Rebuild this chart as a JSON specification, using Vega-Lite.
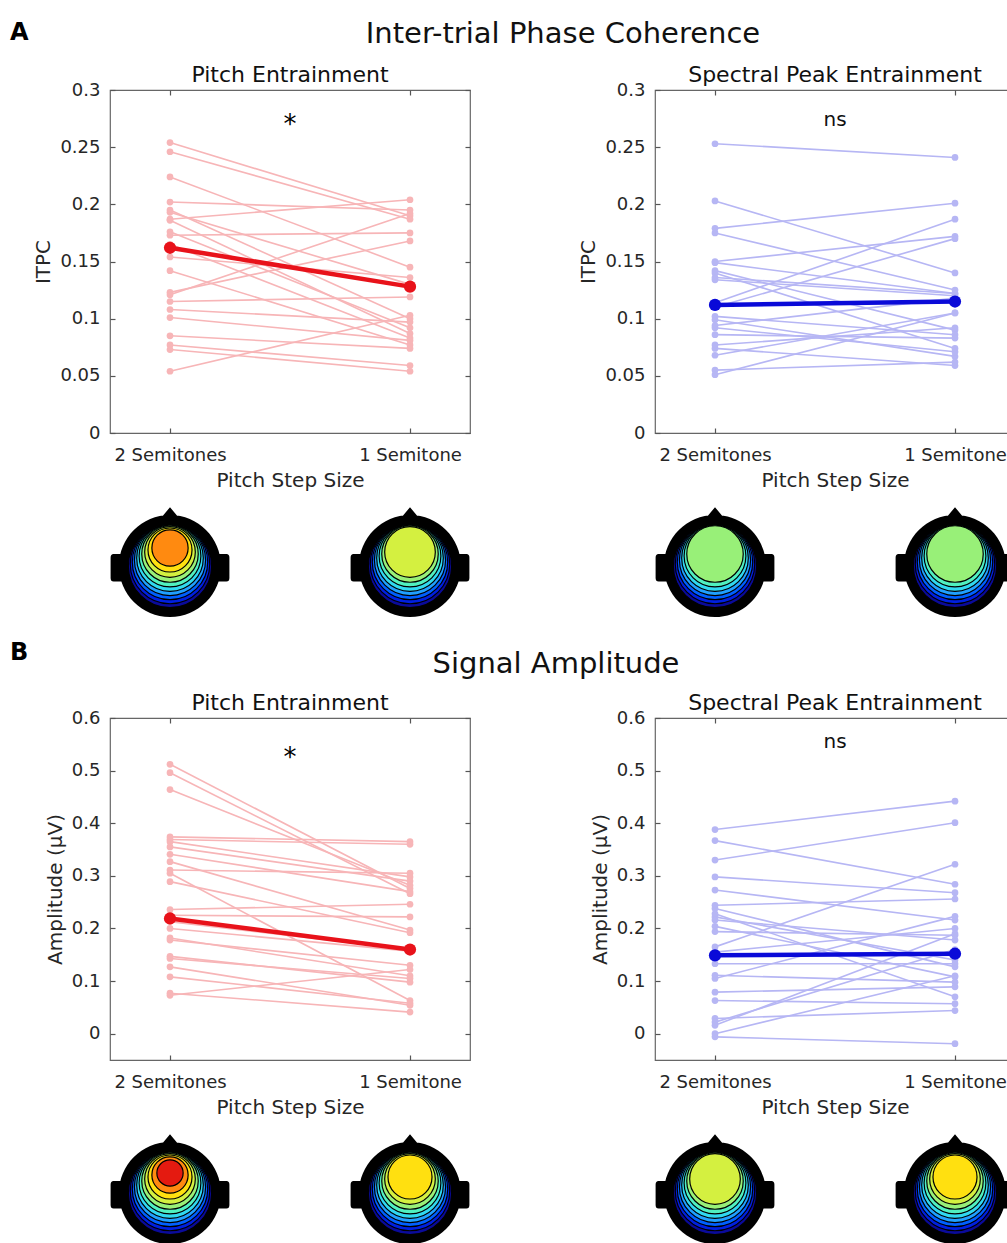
{
  "$schema": "https://vega.github.io/schema/vega-lite/v6.json",
  "padding": {"left": 10, "top": 20, "right": 0, "bottom": 0},
  "background": "white",
  "config": {
    "font": "DejaVu Sans",
    "view": {"stroke": "#666", "strokeWidth": 1.2},
    "axis": {"grid": false, "domain": false, "tickColor": "#555", "tickSize": -5, "tickWidth": 1.2, "labelFontSize": 18, "labelColor": "#262626", "titleFontSize": 20, "titleFontWeight": "normal", "titleColor": "#262626"},
    "title": {"fontSize": 22, "fontWeight": "normal", "color": "#111", "offset": -6, "frame": "group"}
  },
  "datasets": {
    "subjects": [
      {"panel":"AL","subject":1,"2 Semitones":0.254,"1 Semitone":0.190},
      {"panel":"AL","subject":2,"2 Semitones":0.246,"1 Semitone":0.187},
      {"panel":"AL","subject":3,"2 Semitones":0.224,"1 Semitone":0.145},
      {"panel":"AL","subject":4,"2 Semitones":0.202,"1 Semitone":0.195},
      {"panel":"AL","subject":5,"2 Semitones":0.195,"1 Semitone":0.100},
      {"panel":"AL","subject":6,"2 Semitones":0.193,"1 Semitone":0.130},
      {"panel":"AL","subject":7,"2 Semitones":0.187,"1 Semitone":0.204},
      {"panel":"AL","subject":8,"2 Semitones":0.186,"1 Semitone":0.087},
      {"panel":"AL","subject":9,"2 Semitones":0.176,"1 Semitone":0.092},
      {"panel":"AL","subject":10,"2 Semitones":0.173,"1 Semitone":0.175},
      {"panel":"AL","subject":11,"2 Semitones":0.165,"1 Semitone":0.083},
      {"panel":"AL","subject":12,"2 Semitones":0.154,"1 Semitone":0.136},
      {"panel":"AL","subject":13,"2 Semitones":0.142,"1 Semitone":0.077},
      {"panel":"AL","subject":14,"2 Semitones":0.123,"1 Semitone":0.168},
      {"panel":"AL","subject":15,"2 Semitones":0.121,"1 Semitone":0.192},
      {"panel":"AL","subject":16,"2 Semitones":0.115,"1 Semitone":0.119},
      {"panel":"AL","subject":17,"2 Semitones":0.108,"1 Semitone":0.097},
      {"panel":"AL","subject":18,"2 Semitones":0.101,"1 Semitone":0.081},
      {"panel":"AL","subject":19,"2 Semitones":0.085,"1 Semitone":0.074},
      {"panel":"AL","subject":20,"2 Semitones":0.077,"1 Semitone":0.059},
      {"panel":"AL","subject":21,"2 Semitones":0.073,"1 Semitone":0.054},
      {"panel":"AL","subject":22,"2 Semitones":0.054,"1 Semitone":0.103},
      {"panel":"AR","subject":1,"2 Semitones":0.253,"1 Semitone":0.241},
      {"panel":"AR","subject":2,"2 Semitones":0.203,"1 Semitone":0.140},
      {"panel":"AR","subject":3,"2 Semitones":0.179,"1 Semitone":0.201},
      {"panel":"AR","subject":4,"2 Semitones":0.175,"1 Semitone":0.125},
      {"panel":"AR","subject":5,"2 Semitones":0.150,"1 Semitone":0.172},
      {"panel":"AR","subject":6,"2 Semitones":0.149,"1 Semitone":0.122},
      {"panel":"AR","subject":7,"2 Semitones":0.142,"1 Semitone":0.090},
      {"panel":"AR","subject":8,"2 Semitones":0.140,"1 Semitone":0.074},
      {"panel":"AR","subject":9,"2 Semitones":0.136,"1 Semitone":0.122},
      {"panel":"AR","subject":10,"2 Semitones":0.134,"1 Semitone":0.120},
      {"panel":"AR","subject":11,"2 Semitones":0.114,"1 Semitone":0.187},
      {"panel":"AR","subject":12,"2 Semitones":0.110,"1 Semitone":0.170},
      {"panel":"AR","subject":13,"2 Semitones":0.102,"1 Semitone":0.086},
      {"panel":"AR","subject":14,"2 Semitones":0.099,"1 Semitone":0.067},
      {"panel":"AR","subject":15,"2 Semitones":0.094,"1 Semitone":0.118},
      {"panel":"AR","subject":16,"2 Semitones":0.092,"1 Semitone":0.071},
      {"panel":"AR","subject":17,"2 Semitones":0.086,"1 Semitone":0.083},
      {"panel":"AR","subject":18,"2 Semitones":0.077,"1 Semitone":0.092},
      {"panel":"AR","subject":19,"2 Semitones":0.074,"1 Semitone":0.059},
      {"panel":"AR","subject":20,"2 Semitones":0.068,"1 Semitone":0.105},
      {"panel":"AR","subject":21,"2 Semitones":0.055,"1 Semitone":0.062},
      {"panel":"AR","subject":22,"2 Semitones":0.051,"1 Semitone":0.105},
      {"panel":"BL","subject":1,"2 Semitones":0.512,"1 Semitone":0.276},
      {"panel":"BL","subject":2,"2 Semitones":0.496,"1 Semitone":0.266},
      {"panel":"BL","subject":3,"2 Semitones":0.464,"1 Semitone":0.282},
      {"panel":"BL","subject":4,"2 Semitones":0.374,"1 Semitone":0.365},
      {"panel":"BL","subject":5,"2 Semitones":0.369,"1 Semitone":0.360},
      {"panel":"BL","subject":6,"2 Semitones":0.365,"1 Semitone":0.298},
      {"panel":"BL","subject":7,"2 Semitones":0.355,"1 Semitone":0.290},
      {"panel":"BL","subject":8,"2 Semitones":0.341,"1 Semitone":0.270},
      {"panel":"BL","subject":9,"2 Semitones":0.327,"1 Semitone":0.197},
      {"panel":"BL","subject":10,"2 Semitones":0.311,"1 Semitone":0.305},
      {"panel":"BL","subject":11,"2 Semitones":0.305,"1 Semitone":0.063},
      {"panel":"BL","subject":12,"2 Semitones":0.289,"1 Semitone":0.192},
      {"panel":"BL","subject":13,"2 Semitones":0.236,"1 Semitone":0.246},
      {"panel":"BL","subject":14,"2 Semitones":0.225,"1 Semitone":0.222},
      {"panel":"BL","subject":15,"2 Semitones":0.213,"1 Semitone":0.160},
      {"panel":"BL","subject":16,"2 Semitones":0.200,"1 Semitone":0.157},
      {"panel":"BL","subject":17,"2 Semitones":0.182,"1 Semitone":0.110},
      {"panel":"BL","subject":18,"2 Semitones":0.178,"1 Semitone":0.130},
      {"panel":"BL","subject":19,"2 Semitones":0.147,"1 Semitone":0.098},
      {"panel":"BL","subject":20,"2 Semitones":0.143,"1 Semitone":0.105},
      {"panel":"BL","subject":21,"2 Semitones":0.127,"1 Semitone":0.054},
      {"panel":"BL","subject":22,"2 Semitones":0.108,"1 Semitone":0.058},
      {"panel":"BL","subject":23,"2 Semitones":0.077,"1 Semitone":0.041},
      {"panel":"BL","subject":24,"2 Semitones":0.073,"1 Semitone":0.122},
      {"panel":"BR","subject":1,"2 Semitones":0.388,"1 Semitone":0.442},
      {"panel":"BR","subject":2,"2 Semitones":0.367,"1 Semitone":0.284},
      {"panel":"BR","subject":3,"2 Semitones":0.330,"1 Semitone":0.401},
      {"panel":"BR","subject":4,"2 Semitones":0.298,"1 Semitone":0.268},
      {"panel":"BR","subject":5,"2 Semitones":0.273,"1 Semitone":0.216},
      {"panel":"BR","subject":6,"2 Semitones":0.244,"1 Semitone":0.256},
      {"panel":"BR","subject":7,"2 Semitones":0.238,"1 Semitone":0.127},
      {"panel":"BR","subject":8,"2 Semitones":0.228,"1 Semitone":0.070},
      {"panel":"BR","subject":9,"2 Semitones":0.222,"1 Semitone":0.140},
      {"panel":"BR","subject":10,"2 Semitones":0.216,"1 Semitone":0.178},
      {"panel":"BR","subject":11,"2 Semitones":0.204,"1 Semitone":0.108},
      {"panel":"BR","subject":12,"2 Semitones":0.194,"1 Semitone":0.187},
      {"panel":"BR","subject":13,"2 Semitones":0.165,"1 Semitone":0.322},
      {"panel":"BR","subject":14,"2 Semitones":0.155,"1 Semitone":0.200},
      {"panel":"BR","subject":15,"2 Semitones":0.133,"1 Semitone":0.133},
      {"panel":"BR","subject":16,"2 Semitones":0.111,"1 Semitone":0.098},
      {"panel":"BR","subject":17,"2 Semitones":0.105,"1 Semitone":0.223},
      {"panel":"BR","subject":18,"2 Semitones":0.079,"1 Semitone":0.089},
      {"panel":"BR","subject":19,"2 Semitones":0.063,"1 Semitone":0.057},
      {"panel":"BR","subject":20,"2 Semitones":0.029,"1 Semitone":0.044},
      {"panel":"BR","subject":21,"2 Semitones":0.022,"1 Semitone":0.160},
      {"panel":"BR","subject":22,"2 Semitones":0.016,"1 Semitone":0.190},
      {"panel":"BR","subject":23,"2 Semitones":0.000,"1 Semitone":0.110},
      {"panel":"BR","subject":24,"2 Semitones":-0.006,"1 Semitone":-0.019}
    ],
    "means": [
      {"panel":"AL","2 Semitones":0.162,"1 Semitone":0.128},
      {"panel":"AR","2 Semitones":0.112,"1 Semitone":0.115},
      {"panel":"BL","2 Semitones":0.219,"1 Semitone":0.160},
      {"panel":"BR","2 Semitones":0.149,"1 Semitone":0.152}
    ],
    "notes": [
      {"panel":"AL","label":"*","value":0.262},
      {"panel":"AR","label":"ns","value":0.2686},
      {"panel":"BL","label":"*","value":0.509},
      {"panel":"BR","label":"ns","value":0.543}
    ],
    "topo": [
      {"panel":"AL","step":"2 Semitones","level":0},{"panel":"AL","step":"2 Semitones","level":1},{"panel":"AL","step":"2 Semitones","level":2},{"panel":"AL","step":"2 Semitones","level":3},{"panel":"AL","step":"2 Semitones","level":4},{"panel":"AL","step":"2 Semitones","level":5},{"panel":"AL","step":"2 Semitones","level":6},{"panel":"AL","step":"2 Semitones","level":7},{"panel":"AL","step":"2 Semitones","level":8},{"panel":"AL","step":"2 Semitones","level":9},
      {"panel":"AL","step":"1 Semitone","level":0},{"panel":"AL","step":"1 Semitone","level":1},{"panel":"AL","step":"1 Semitone","level":2},{"panel":"AL","step":"1 Semitone","level":3},{"panel":"AL","step":"1 Semitone","level":4},{"panel":"AL","step":"1 Semitone","level":5},{"panel":"AL","step":"1 Semitone","level":6},{"panel":"AL","step":"1 Semitone","level":7},
      {"panel":"AR","step":"2 Semitones","level":0},{"panel":"AR","step":"2 Semitones","level":1},{"panel":"AR","step":"2 Semitones","level":2},{"panel":"AR","step":"2 Semitones","level":3},{"panel":"AR","step":"2 Semitones","level":4},{"panel":"AR","step":"2 Semitones","level":5},{"panel":"AR","step":"2 Semitones","level":6},
      {"panel":"AR","step":"1 Semitone","level":0},{"panel":"AR","step":"1 Semitone","level":1},{"panel":"AR","step":"1 Semitone","level":2},{"panel":"AR","step":"1 Semitone","level":3},{"panel":"AR","step":"1 Semitone","level":4},{"panel":"AR","step":"1 Semitone","level":5},{"panel":"AR","step":"1 Semitone","level":6},
      {"panel":"BL","step":"2 Semitones","level":0},{"panel":"BL","step":"2 Semitones","level":1},{"panel":"BL","step":"2 Semitones","level":2},{"panel":"BL","step":"2 Semitones","level":3},{"panel":"BL","step":"2 Semitones","level":4},{"panel":"BL","step":"2 Semitones","level":5},{"panel":"BL","step":"2 Semitones","level":6},{"panel":"BL","step":"2 Semitones","level":7},{"panel":"BL","step":"2 Semitones","level":8},{"panel":"BL","step":"2 Semitones","level":9},{"panel":"BL","step":"2 Semitones","level":10},
      {"panel":"BL","step":"1 Semitone","level":0},{"panel":"BL","step":"1 Semitone","level":1},{"panel":"BL","step":"1 Semitone","level":2},{"panel":"BL","step":"1 Semitone","level":3},{"panel":"BL","step":"1 Semitone","level":4},{"panel":"BL","step":"1 Semitone","level":5},{"panel":"BL","step":"1 Semitone","level":6},{"panel":"BL","step":"1 Semitone","level":7},{"panel":"BL","step":"1 Semitone","level":8},
      {"panel":"BR","step":"2 Semitones","level":0},{"panel":"BR","step":"2 Semitones","level":1},{"panel":"BR","step":"2 Semitones","level":2},{"panel":"BR","step":"2 Semitones","level":3},{"panel":"BR","step":"2 Semitones","level":4},{"panel":"BR","step":"2 Semitones","level":5},{"panel":"BR","step":"2 Semitones","level":6},{"panel":"BR","step":"2 Semitones","level":7},
      {"panel":"BR","step":"1 Semitone","level":0},{"panel":"BR","step":"1 Semitone","level":1},{"panel":"BR","step":"1 Semitone","level":2},{"panel":"BR","step":"1 Semitone","level":3},{"panel":"BR","step":"1 Semitone","level":4},{"panel":"BR","step":"1 Semitone","level":5},{"panel":"BR","step":"1 Semitone","level":6},{"panel":"BR","step":"1 Semitone","level":7},{"panel":"BR","step":"1 Semitone","level":8}
    ]
  },
  "bounds": "flush",
  "columns": 2,
  "spacing": {"row": 40, "column": 185},
  "concat": [
    {
      "width": 360, "height": 1, "view": {"stroke": null},
      "data": {"values": []}, "mark": "text", "encoding": {},
      "title": {"text": "A", "anchor": "start", "frame": "group", "dx": -100, "offset": -15, "baseline": "alphabetic", "fontSize": 24, "fontWeight": "bold", "color": "black"}
    },
    {
      "width": 360, "height": 1, "view": {"stroke": null},
      "data": {"values": []}, "mark": "text", "encoding": {},
      "title": {"text": "Inter-trial Phase Coherence", "anchor": "start", "align": "center", "frame": "group", "dx": -92, "offset": -23, "baseline": "alphabetic", "fontSize": 29, "color": "#111"}
    },
    {
      "width": 360, "height": 343,
      "title": {"text": "Pitch Entrainment"},
      "resolve": {"axis": {"x": "independent", "y": "independent"}},
      "layer": [
        {"data": {"name": "subjects"}, "transform": [{"filter": "datum.panel == 'AL'"}, {"fold": ["2 Semitones", "1 Semitone"], "as": ["step", "value"]}],
         "mark": {"type": "line", "color": "#f7b5b7", "strokeWidth": 1.6},
         "encoding": {
           "x": {"field": "step", "type": "ordinal", "sort": ["2 Semitones", "1 Semitone"], "scale": {"type": "point", "padding": 0.25}, "axis": {"orient": "bottom", "title": "Pitch Step Size", "labelAngle": 0, "labelPadding": 18, "titlePadding": 6}},
           "y": {"field": "value", "type": "quantitative", "scale": {"domain": [0, 0.3], "nice": false, "zero": false}, "axis": {"orient": "left", "title": "ITPC", "values": [0, 0.05, 0.1, 0.15, 0.2, 0.25, 0.3], "format": "~g", "labelPadding": 15, "titlePadding": 6}},
           "detail": {"field": "subject"}}},
        {"data": {"name": "subjects"}, "transform": [{"filter": "datum.panel == 'AL'"}, {"fold": ["2 Semitones", "1 Semitone"], "as": ["step", "value"]}],
         "mark": {"type": "point", "filled": true, "opacity": 1, "color": "#f7b5b7", "size": 45},
         "encoding": {
           "x": {"field": "step", "type": "ordinal", "sort": ["2 Semitones", "1 Semitone"], "axis": null},
           "y": {"field": "value", "type": "quantitative", "axis": null}}},
        {"data": {"name": "means"}, "transform": [{"filter": "datum.panel == 'AL'"}, {"fold": ["2 Semitones", "1 Semitone"], "as": ["step", "value"]}],
         "mark": {"type": "line", "color": "#e8121a", "strokeWidth": 4.5},
         "encoding": {
           "x": {"field": "step", "type": "ordinal", "sort": ["2 Semitones", "1 Semitone"], "axis": {"orient": "top", "labels": false, "title": null}},
           "y": {"field": "value", "type": "quantitative", "axis": {"orient": "right", "labels": false, "title": null, "values": [0, 0.05, 0.1, 0.15, 0.2, 0.25, 0.3]}}}},
        {"data": {"name": "means"}, "transform": [{"filter": "datum.panel == 'AL'"}, {"fold": ["2 Semitones", "1 Semitone"], "as": ["step", "value"]}],
         "mark": {"type": "point", "filled": true, "opacity": 1, "color": "#e8121a", "size": 150},
         "encoding": {
           "x": {"field": "step", "type": "ordinal", "sort": ["2 Semitones", "1 Semitone"], "axis": null},
           "y": {"field": "value", "type": "quantitative", "axis": null}}},
        {"data": {"name": "notes"}, "transform": [{"filter": "datum.panel == 'AL'"}],
         "mark": {"type": "text", "fontSize": 26, "color": "#000", "baseline": "alphabetic"},
         "encoding": {
           "y": {"field": "value", "type": "quantitative", "axis": null},
           "text": {"field": "label"}}}
      ]
    },
    {
      "width": 360, "height": 343,
      "title": {"text": "Spectral Peak Entrainment"},
      "resolve": {"axis": {"x": "independent", "y": "independent"}},
      "layer": [
        {"data": {"name": "subjects"}, "transform": [{"filter": "datum.panel == 'AR'"}, {"fold": ["2 Semitones", "1 Semitone"], "as": ["step", "value"]}],
         "mark": {"type": "line", "color": "#b6b6f4", "strokeWidth": 1.6},
         "encoding": {
           "x": {"field": "step", "type": "ordinal", "sort": ["2 Semitones", "1 Semitone"], "scale": {"type": "point", "padding": 0.25}, "axis": {"orient": "bottom", "title": "Pitch Step Size", "labelAngle": 0, "labelPadding": 18, "titlePadding": 6}},
           "y": {"field": "value", "type": "quantitative", "scale": {"domain": [0, 0.3], "nice": false, "zero": false}, "axis": {"orient": "left", "title": "ITPC", "values": [0, 0.05, 0.1, 0.15, 0.2, 0.25, 0.3], "format": "~g", "labelPadding": 15, "titlePadding": 6}},
           "detail": {"field": "subject"}}},
        {"data": {"name": "subjects"}, "transform": [{"filter": "datum.panel == 'AR'"}, {"fold": ["2 Semitones", "1 Semitone"], "as": ["step", "value"]}],
         "mark": {"type": "point", "filled": true, "opacity": 1, "color": "#b6b6f4", "size": 45},
         "encoding": {
           "x": {"field": "step", "type": "ordinal", "sort": ["2 Semitones", "1 Semitone"], "axis": null},
           "y": {"field": "value", "type": "quantitative", "axis": null}}},
        {"data": {"name": "means"}, "transform": [{"filter": "datum.panel == 'AR'"}, {"fold": ["2 Semitones", "1 Semitone"], "as": ["step", "value"]}],
         "mark": {"type": "line", "color": "#0a0ad8", "strokeWidth": 4.5},
         "encoding": {
           "x": {"field": "step", "type": "ordinal", "sort": ["2 Semitones", "1 Semitone"], "axis": {"orient": "top", "labels": false, "title": null}},
           "y": {"field": "value", "type": "quantitative", "axis": {"orient": "right", "labels": false, "title": null, "values": [0, 0.05, 0.1, 0.15, 0.2, 0.25, 0.3]}}}},
        {"data": {"name": "means"}, "transform": [{"filter": "datum.panel == 'AR'"}, {"fold": ["2 Semitones", "1 Semitone"], "as": ["step", "value"]}],
         "mark": {"type": "point", "filled": true, "opacity": 1, "color": "#0a0ad8", "size": 150},
         "encoding": {
           "x": {"field": "step", "type": "ordinal", "sort": ["2 Semitones", "1 Semitone"], "axis": null},
           "y": {"field": "value", "type": "quantitative", "axis": null}}},
        {"data": {"name": "notes"}, "transform": [{"filter": "datum.panel == 'AR'"}],
         "mark": {"type": "text", "fontSize": 20, "color": "#111", "baseline": "alphabetic"},
         "encoding": {
           "y": {"field": "value", "type": "quantitative", "axis": null},
           "text": {"field": "label"}}}
      ]
    },
    {
      "width": 360, "height": 205, "view": {"stroke": null},
      "title": {"text": "B", "orient": "bottom", "anchor": "start", "frame": "group", "dx": -100, "offset": -18, "baseline": "alphabetic", "fontSize": 24, "fontWeight": "bold", "color": "black"},
      "data": {"name": "topo"},
      "transform": [{"filter": "datum.panel == 'AL'"}],
      "encoding": {
        "x": {"field": "step", "type": "ordinal", "sort": ["2 Semitones", "1 Semitone"], "scale": {"type": "point", "padding": 0.25}, "axis": null},
        "y": {"field": "level", "type": "quantitative", "scale": {"domain": [-56, 46.5], "nice": false, "zero": false}, "axis": null}
      },
      "layer": [
        {"transform": [{"filter": "datum.level == 0"}],
         "mark": {"type": "point", "filled": true, "opacity": 1, "color": "black", "size": 14400, "shape": "M-0.85,0A0.85,0.85,0,1,1,0.85,0A0.85,0.85,0,1,1,-0.85,0ZM-0.15,-0.8L0,-0.98L0.15,-0.8ZM-0.8,-0.2L-0.8,0.26L-0.94,0.26Q-0.99,0.26,-0.99,0.2L-0.99,-0.14Q-0.99,-0.2,-0.94,-0.2ZM0.8,-0.2L0.94,-0.2Q0.99,-0.2,0.99,-0.14L0.99,0.2Q0.99,0.26,0.94,0.26L0.8,0.26Z"}},
        {"mark": {"type": "point", "shape": "circle", "filled": true, "opacity": 1, "stroke": "black", "strokeWidth": 1.2},
         "encoding": {
           "color": {"field": "level", "type": "ordinal", "scale": {"domain": [0,1,2,3,4,5,6,7,8,9,10], "range": ["#0a0a9a","#0020e0","#0060ff","#20a0ff","#30d8f0","#50f0c0","#98f078","#d4f040","#ffe010","#ff8a10","#e41a10"]}, "legend": null},
           "size": {"field": "level", "type": "quantitative", "scale": {"domain": [0, 10], "range": [6940, 690], "zero": false}, "legend": null}}}
      ]
    },
    {
      "width": 360, "height": 205, "view": {"stroke": null},
      "title": {"text": "Signal Amplitude", "orient": "bottom", "anchor": "start", "align": "center", "frame": "group", "dx": -99, "offset": -5, "baseline": "alphabetic", "fontSize": 29, "color": "#111"},
      "data": {"name": "topo"},
      "transform": [{"filter": "datum.panel == 'AR'"}],
      "encoding": {
        "x": {"field": "step", "type": "ordinal", "sort": ["2 Semitones", "1 Semitone"], "scale": {"type": "point", "padding": 0.25}, "axis": null},
        "y": {"field": "level", "type": "quantitative", "scale": {"domain": [-56, 46.5], "nice": false, "zero": false}, "axis": null}
      },
      "layer": [
        {"transform": [{"filter": "datum.level == 0"}],
         "mark": {"type": "point", "filled": true, "opacity": 1, "color": "black", "size": 14400, "shape": "M-0.85,0A0.85,0.85,0,1,1,0.85,0A0.85,0.85,0,1,1,-0.85,0ZM-0.15,-0.8L0,-0.98L0.15,-0.8ZM-0.8,-0.2L-0.8,0.26L-0.94,0.26Q-0.99,0.26,-0.99,0.2L-0.99,-0.14Q-0.99,-0.2,-0.94,-0.2ZM0.8,-0.2L0.94,-0.2Q0.99,-0.2,0.99,-0.14L0.99,0.2Q0.99,0.26,0.94,0.26L0.8,0.26Z"}},
        {"mark": {"type": "point", "shape": "circle", "filled": true, "opacity": 1, "stroke": "black", "strokeWidth": 1.2},
         "encoding": {
           "color": {"field": "level", "type": "ordinal", "scale": {"domain": [0,1,2,3,4,5,6,7,8,9,10], "range": ["#0a0a9a","#0020e0","#0060ff","#20a0ff","#30d8f0","#50f0c0","#98f078","#d4f040","#ffe010","#ff8a10","#e41a10"]}, "legend": null},
           "size": {"field": "level", "type": "quantitative", "scale": {"domain": [0, 10], "range": [6940, 690], "zero": false}, "legend": null}}}
      ]
    },
    {
      "width": 360, "height": 342,
      "title": {"text": "Pitch Entrainment"},
      "resolve": {"axis": {"x": "independent", "y": "independent"}},
      "layer": [
        {"data": {"name": "subjects"}, "transform": [{"filter": "datum.panel == 'BL'"}, {"fold": ["2 Semitones", "1 Semitone"], "as": ["step", "value"]}],
         "mark": {"type": "line", "color": "#f7b5b7", "strokeWidth": 1.6},
         "encoding": {
           "x": {"field": "step", "type": "ordinal", "sort": ["2 Semitones", "1 Semitone"], "scale": {"type": "point", "padding": 0.25}, "axis": {"orient": "bottom", "title": "Pitch Step Size", "labelAngle": 0, "labelPadding": 18, "titlePadding": 6}},
           "y": {"field": "value", "type": "quantitative", "scale": {"domain": [-0.05, 0.6], "nice": false, "zero": false}, "axis": {"orient": "left", "title": "Amplitude (μV)", "values": [0, 0.1, 0.2, 0.3, 0.4, 0.5, 0.6], "format": "~g", "labelPadding": 15, "titlePadding": 6}},
           "detail": {"field": "subject"}}},
        {"data": {"name": "subjects"}, "transform": [{"filter": "datum.panel == 'BL'"}, {"fold": ["2 Semitones", "1 Semitone"], "as": ["step", "value"]}],
         "mark": {"type": "point", "filled": true, "opacity": 1, "color": "#f7b5b7", "size": 45},
         "encoding": {
           "x": {"field": "step", "type": "ordinal", "sort": ["2 Semitones", "1 Semitone"], "axis": null},
           "y": {"field": "value", "type": "quantitative", "axis": null}}},
        {"data": {"name": "means"}, "transform": [{"filter": "datum.panel == 'BL'"}, {"fold": ["2 Semitones", "1 Semitone"], "as": ["step", "value"]}],
         "mark": {"type": "line", "color": "#e8121a", "strokeWidth": 4.5},
         "encoding": {
           "x": {"field": "step", "type": "ordinal", "sort": ["2 Semitones", "1 Semitone"], "axis": {"orient": "top", "labels": false, "title": null}},
           "y": {"field": "value", "type": "quantitative", "axis": {"orient": "right", "labels": false, "title": null, "values": [0, 0.1, 0.2, 0.3, 0.4, 0.5, 0.6]}}}},
        {"data": {"name": "means"}, "transform": [{"filter": "datum.panel == 'BL'"}, {"fold": ["2 Semitones", "1 Semitone"], "as": ["step", "value"]}],
         "mark": {"type": "point", "filled": true, "opacity": 1, "color": "#e8121a", "size": 150},
         "encoding": {
           "x": {"field": "step", "type": "ordinal", "sort": ["2 Semitones", "1 Semitone"], "axis": null},
           "y": {"field": "value", "type": "quantitative", "axis": null}}},
        {"data": {"name": "notes"}, "transform": [{"filter": "datum.panel == 'BL'"}],
         "mark": {"type": "text", "fontSize": 26, "color": "#000", "baseline": "alphabetic"},
         "encoding": {
           "y": {"field": "value", "type": "quantitative", "axis": null},
           "text": {"field": "label"}}}
      ]
    },
    {
      "width": 360, "height": 342,
      "title": {"text": "Spectral Peak Entrainment"},
      "resolve": {"axis": {"x": "independent", "y": "independent"}},
      "layer": [
        {"data": {"name": "subjects"}, "transform": [{"filter": "datum.panel == 'BR'"}, {"fold": ["2 Semitones", "1 Semitone"], "as": ["step", "value"]}],
         "mark": {"type": "line", "color": "#b6b6f4", "strokeWidth": 1.6},
         "encoding": {
           "x": {"field": "step", "type": "ordinal", "sort": ["2 Semitones", "1 Semitone"], "scale": {"type": "point", "padding": 0.25}, "axis": {"orient": "bottom", "title": "Pitch Step Size", "labelAngle": 0, "labelPadding": 18, "titlePadding": 6}},
           "y": {"field": "value", "type": "quantitative", "scale": {"domain": [-0.05, 0.6], "nice": false, "zero": false}, "axis": {"orient": "left", "title": "Amplitude (μV)", "values": [0, 0.1, 0.2, 0.3, 0.4, 0.5, 0.6], "format": "~g", "labelPadding": 15, "titlePadding": 6}},
           "detail": {"field": "subject"}}},
        {"data": {"name": "subjects"}, "transform": [{"filter": "datum.panel == 'BR'"}, {"fold": ["2 Semitones", "1 Semitone"], "as": ["step", "value"]}],
         "mark": {"type": "point", "filled": true, "opacity": 1, "color": "#b6b6f4", "size": 45},
         "encoding": {
           "x": {"field": "step", "type": "ordinal", "sort": ["2 Semitones", "1 Semitone"], "axis": null},
           "y": {"field": "value", "type": "quantitative", "axis": null}}},
        {"data": {"name": "means"}, "transform": [{"filter": "datum.panel == 'BR'"}, {"fold": ["2 Semitones", "1 Semitone"], "as": ["step", "value"]}],
         "mark": {"type": "line", "color": "#0a0ad8", "strokeWidth": 4.5},
         "encoding": {
           "x": {"field": "step", "type": "ordinal", "sort": ["2 Semitones", "1 Semitone"], "axis": {"orient": "top", "labels": false, "title": null}},
           "y": {"field": "value", "type": "quantitative", "axis": {"orient": "right", "labels": false, "title": null, "values": [0, 0.1, 0.2, 0.3, 0.4, 0.5, 0.6]}}}},
        {"data": {"name": "means"}, "transform": [{"filter": "datum.panel == 'BR'"}, {"fold": ["2 Semitones", "1 Semitone"], "as": ["step", "value"]}],
         "mark": {"type": "point", "filled": true, "opacity": 1, "color": "#0a0ad8", "size": 150},
         "encoding": {
           "x": {"field": "step", "type": "ordinal", "sort": ["2 Semitones", "1 Semitone"], "axis": null},
           "y": {"field": "value", "type": "quantitative", "axis": null}}},
        {"data": {"name": "notes"}, "transform": [{"filter": "datum.panel == 'BR'"}],
         "mark": {"type": "text", "fontSize": 20, "color": "#111", "baseline": "alphabetic"},
         "encoding": {
           "y": {"field": "value", "type": "quantitative", "axis": null},
           "text": {"field": "label"}}}
      ]
    },
    {
      "width": 360, "height": 205, "view": {"stroke": null},
      "data": {"name": "topo"},
      "transform": [{"filter": "datum.panel == 'BL'"}],
      "encoding": {
        "x": {"field": "step", "type": "ordinal", "sort": ["2 Semitones", "1 Semitone"], "scale": {"type": "point", "padding": 0.25}, "axis": null},
        "y": {"field": "level", "type": "quantitative", "scale": {"domain": [-56, 46.5], "nice": false, "zero": false}, "axis": null}
      },
      "layer": [
        {"transform": [{"filter": "datum.level == 0"}],
         "mark": {"type": "point", "filled": true, "opacity": 1, "color": "black", "size": 14400, "shape": "M-0.85,0A0.85,0.85,0,1,1,0.85,0A0.85,0.85,0,1,1,-0.85,0ZM-0.15,-0.8L0,-0.98L0.15,-0.8ZM-0.8,-0.2L-0.8,0.26L-0.94,0.26Q-0.99,0.26,-0.99,0.2L-0.99,-0.14Q-0.99,-0.2,-0.94,-0.2ZM0.8,-0.2L0.94,-0.2Q0.99,-0.2,0.99,-0.14L0.99,0.2Q0.99,0.26,0.94,0.26L0.8,0.26Z"}},
        {"mark": {"type": "point", "shape": "circle", "filled": true, "opacity": 1, "stroke": "black", "strokeWidth": 1.2},
         "encoding": {
           "color": {"field": "level", "type": "ordinal", "scale": {"domain": [0,1,2,3,4,5,6,7,8,9,10], "range": ["#0a0a9a","#0020e0","#0060ff","#20a0ff","#30d8f0","#50f0c0","#98f078","#d4f040","#ffe010","#ff8a10","#e41a10"]}, "legend": null},
           "size": {"field": "level", "type": "quantitative", "scale": {"domain": [0, 10], "range": [6940, 690], "zero": false}, "legend": null}}}
      ]
    },
    {
      "width": 360, "height": 205, "view": {"stroke": null},
      "data": {"name": "topo"},
      "transform": [{"filter": "datum.panel == 'BR'"}],
      "encoding": {
        "x": {"field": "step", "type": "ordinal", "sort": ["2 Semitones", "1 Semitone"], "scale": {"type": "point", "padding": 0.25}, "axis": null},
        "y": {"field": "level", "type": "quantitative", "scale": {"domain": [-56, 46.5], "nice": false, "zero": false}, "axis": null}
      },
      "layer": [
        {"transform": [{"filter": "datum.level == 0"}],
         "mark": {"type": "point", "filled": true, "opacity": 1, "color": "black", "size": 14400, "shape": "M-0.85,0A0.85,0.85,0,1,1,0.85,0A0.85,0.85,0,1,1,-0.85,0ZM-0.15,-0.8L0,-0.98L0.15,-0.8ZM-0.8,-0.2L-0.8,0.26L-0.94,0.26Q-0.99,0.26,-0.99,0.2L-0.99,-0.14Q-0.99,-0.2,-0.94,-0.2ZM0.8,-0.2L0.94,-0.2Q0.99,-0.2,0.99,-0.14L0.99,0.2Q0.99,0.26,0.94,0.26L0.8,0.26Z"}},
        {"mark": {"type": "point", "shape": "circle", "filled": true, "opacity": 1, "stroke": "black", "strokeWidth": 1.2},
         "encoding": {
           "color": {"field": "level", "type": "ordinal", "scale": {"domain": [0,1,2,3,4,5,6,7,8,9,10], "range": ["#0a0a9a","#0020e0","#0060ff","#20a0ff","#30d8f0","#50f0c0","#98f078","#d4f040","#ffe010","#ff8a10","#e41a10"]}, "legend": null},
           "size": {"field": "level", "type": "quantitative", "scale": {"domain": [0, 10], "range": [6940, 690], "zero": false}, "legend": null}}}
      ]
    }
  ]
}
